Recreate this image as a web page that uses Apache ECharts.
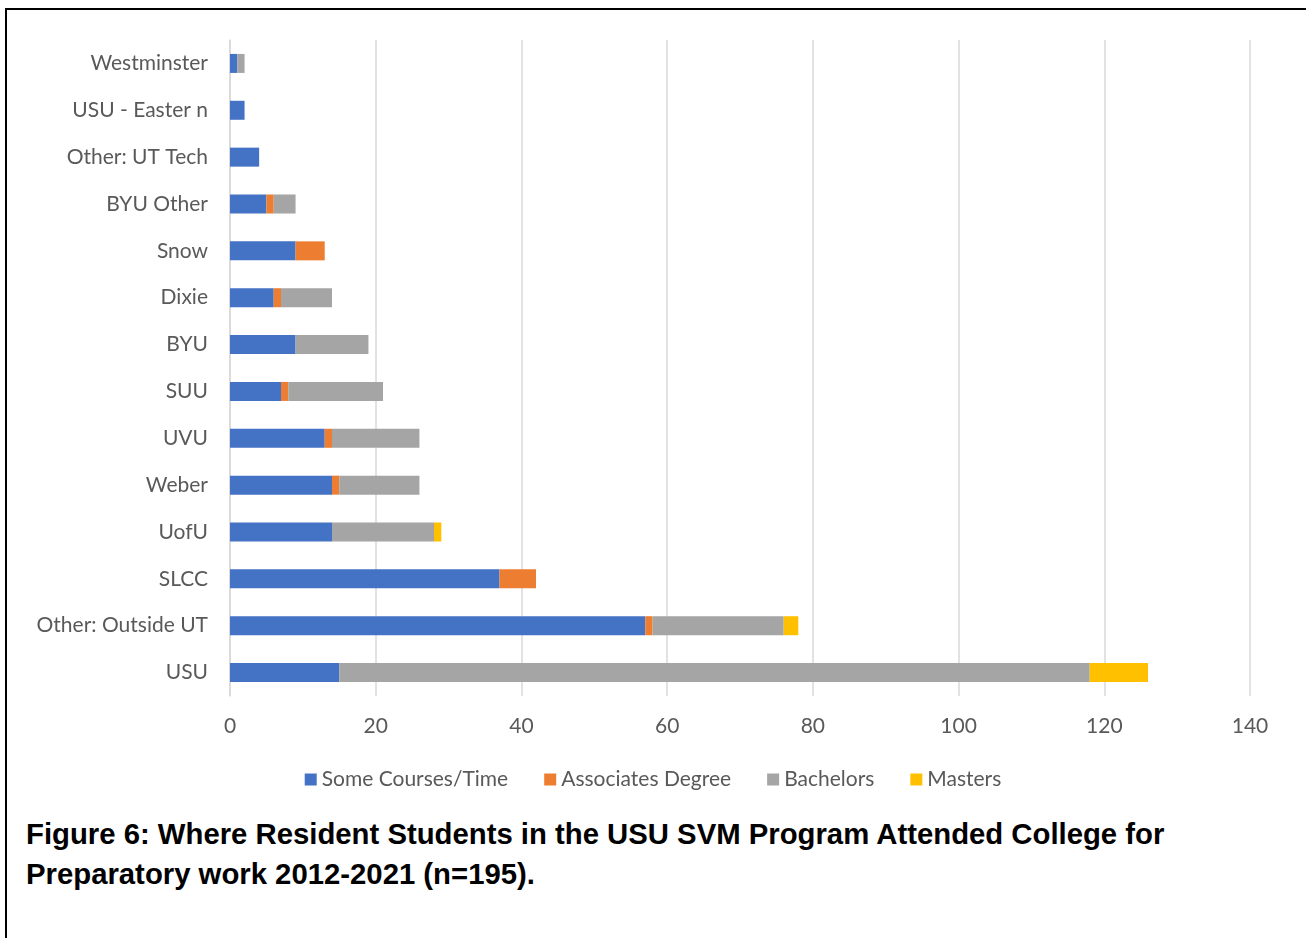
<!DOCTYPE html>
<html>
<head>
<meta charset="utf-8">
<script src="https://cdn.jsdelivr.net/npm/echarts@6/dist/echarts.min.js"></script>
<style>
html,body{margin:0;padding:0;background:#fff;width:1306px;height:938px;overflow:hidden;}
#frame{position:absolute;left:5px;top:8px;width:1320px;height:960px;border:2px solid #000;box-sizing:border-box;}
#chart{position:absolute;left:0;top:0;width:1306px;height:810px;}
#caption{position:absolute;left:26px;top:814px;font-family:"Liberation Sans",Arial,sans-serif;font-weight:bold;font-size:29.3px;line-height:40px;color:#000;white-space:nowrap;}
</style>
</head>
<body>
<div id="frame"></div>
<div id="chart"></div>
<div id="caption">Figure 6: Where Resident Students in the USU SVM Program Attended College for<br>Preparatory work 2012-2021 (n=195).</div>
<script>
// bottom-to-top order
const categories = ["USU","Other: Outside UT","SLCC","UofU","Weber","UVU","SUU","BYU","Dixie","Snow","BYU Other","Other: UT Tech","USU - Easter n","Westminster"];
const someCourses = [15,57,37,14,14,13,7,9,6,9,5,4,2,1];
const associates  = [0,1,5,0,1,1,1,0,1,4,1,0,0,0];
const bachelors   = [103,18,0,14,11,12,13,10,7,0,3,0,0,1];
const masters     = [8,2,0,1,0,0,0,0,0,0,0,0,0,0];
const xTicks = [0,20,40,60,80,100,120,140];

const seriesNames = ["Some Courses/Time","Associates Degree","Bachelors","Masters"];
const seriesData = [someCourses, associates, bachelors, masters];
const colors = ["#4472C4","#ED7D31","#A5A5A5","#FFC000"];

const chart = echarts.init(document.getElementById('chart'), null, {renderer:'canvas'});
chart.setOption({
  animation:false,
  color:colors,
  grid:{left:230,right:56,top:40,height:656,containLabel:false},
  legend:{
    bottom:15,left:'center',itemWidth:12,itemHeight:12,itemGap:36,icon:'rect',
    textStyle:{fontFamily:'Lato, "Open Sans", sans-serif',fontSize:21,color:'#595959'},
    data:seriesNames
  },
  xAxis:{
    type:'value',min:0,max:140,interval:20,
    axisLine:{show:false},axisTick:{show:false},
    splitLine:{lineStyle:{color:'#d9d9d9',width:1.5}},
    axisLabel:{fontFamily:'Lato, "Open Sans", sans-serif',fontSize:21,color:'#595959',margin:20,
      formatter:v=>xTicks.includes(v)?String(v):''}
  },
  yAxis:{
    type:'category',data:categories,
    axisLine:{show:true,lineStyle:{color:'#d9d9d9',width:1.5}},axisTick:{show:false},
    axisLabel:{fontFamily:'Lato, "Open Sans", sans-serif',fontSize:21,color:'#595959',margin:22}
  },
  series:seriesNames.map((n,i)=>({
    name:n,type:'bar',stack:'total',barWidth:19,data:seriesData[i]
  }))
});
</script>
</body>
</html>
